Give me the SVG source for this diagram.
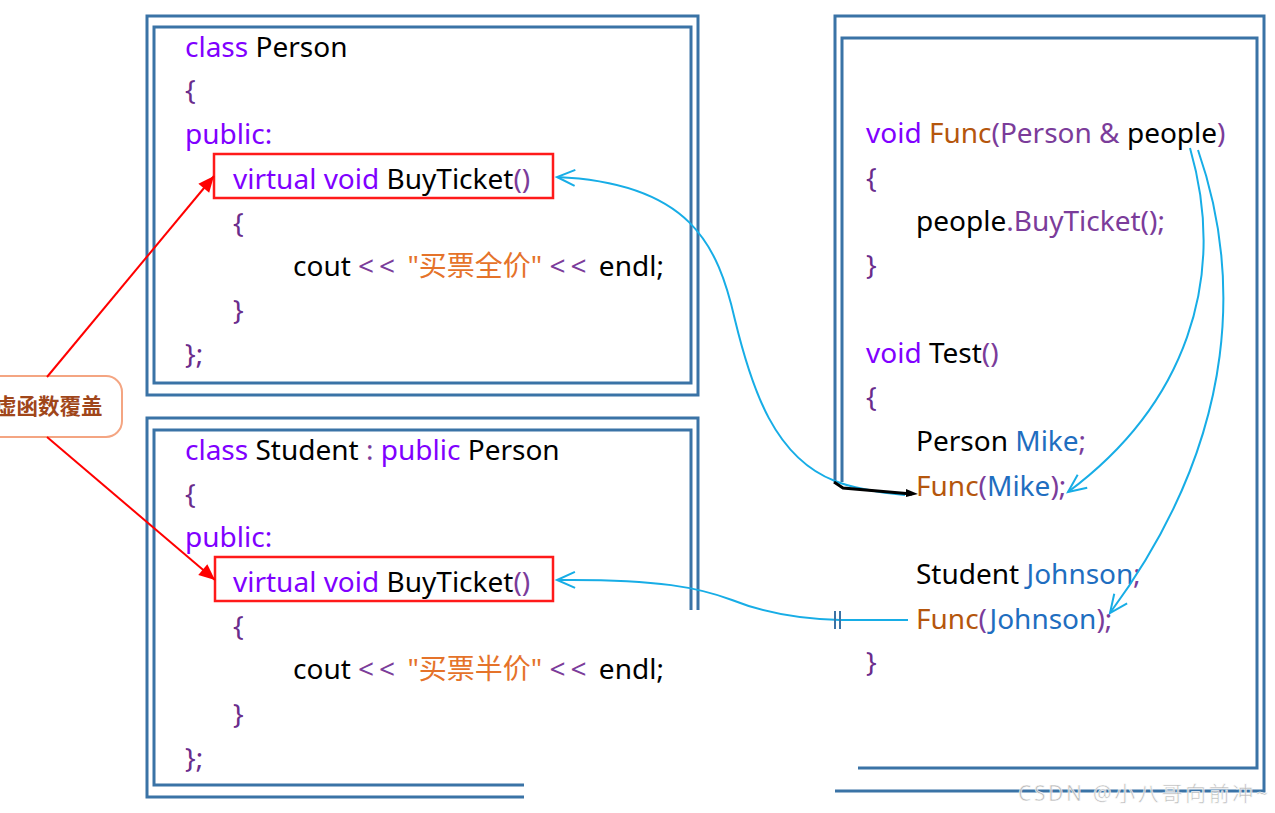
<svg xmlns="http://www.w3.org/2000/svg" width="1275" height="813" viewBox="0 0 1275 813">
<style>
text{font-family:"Noto Sans","Noto Sans CJK SC",sans-serif;font-size:28px;fill:#000}
.kw{fill:#8000FF}
.br{fill:#6A2C8C}
.fn{fill:#B5560D}
.pu{fill:#7B3C9A}
.op{fill:#7B3C9A;letter-spacing:5px}
.bl{fill:#1F6EC0}
.st{fill:#E5732A}
.frame{fill:none;stroke:#3A73A6;stroke-width:3}
.hl{fill:none;stroke:#FF1A1A;stroke-width:2.5}
.red{fill:none;stroke:#FF0000;stroke-width:2}
.blue{fill:none;stroke:#17ADE6;stroke-width:2}
</style>
<defs>
<marker id="ar" markerUnits="userSpaceOnUse" markerWidth="20" markerHeight="20" viewBox="0 0 20 20" refX="18" refY="10" orient="auto">
<path d="M2,3 L18,10 L2,17 Z" fill="#FF0000"/>
</marker>
<marker id="ab" markerUnits="userSpaceOnUse" markerWidth="24" markerHeight="24" viewBox="0 0 24 24" refX="21" refY="12" orient="auto">
<path d="M3,4 L21,12 L3,20" fill="none" stroke="#17ADE6" stroke-width="2"/>
</marker>
</defs>

<g id="person-box">
<rect class="frame" x="147" y="16" width="551" height="379"/>
<rect class="frame" x="154" y="27" width="537" height="356"/>
<text x="185" y="57"><tspan class="kw">class</tspan> Person</text>
<text x="185" y="100" class="br">{</text>
<text x="185" y="144" class="kw">public:</text>
<rect class="hl" x="214" y="154" width="339" height="44"/>
<text x="233" y="189"><tspan class="kw">virtual void</tspan> BuyTicket<tspan class="pu">()</tspan></text>
<text x="233" y="233" class="br">{</text>
<text x="293" y="276">cout <tspan class="op">&lt;&lt;</tspan> <tspan class="st">"买票全价"</tspan> <tspan class="op">&lt;&lt;</tspan> endl;</text>
<text x="233" y="320" class="br">}</text>
<text x="185" y="364" class="br">};</text>
</g>

<g id="student-box">
<path class="frame" d="M698,610 V418 H147 V797 H524"/>
<path class="frame" d="M691,610 V430 H154 V785 H524"/>
<text x="185" y="460"><tspan class="kw">class</tspan> Student <tspan class="pu">:</tspan> <tspan class="kw">public</tspan> Person</text>
<text x="185" y="504" class="br">{</text>
<text x="185" y="547" class="kw">public:</text>
<rect class="hl" x="215" y="557" width="338" height="44"/>
<text x="233" y="592"><tspan class="kw">virtual void</tspan> BuyTicket<tspan class="pu">()</tspan></text>
<text x="233" y="636" class="br">{</text>
<text x="293" y="679">cout <tspan class="op">&lt;&lt;</tspan> <tspan class="st">"买票半价"</tspan> <tspan class="op">&lt;&lt;</tspan> endl;</text>
<text x="233" y="724" class="br">}</text>
<text x="185" y="768" class="br">};</text>
</g>

<g id="func-box">
<path class="frame" d="M835,482 V16 H1264 V791 H835"/>
<path class="frame" d="M842,482 V38 H1257 V768 H858"/>
<text x="866" y="143"><tspan class="kw">void</tspan> <tspan class="fn">Func</tspan><tspan class="pu">(Person &amp;</tspan> people<tspan class="pu">)</tspan></text>
<text x="866" y="188" class="br">{</text>
<text x="916" y="231">people<tspan class="pu">.BuyTicket();</tspan></text>
<text x="866" y="275" class="br">}</text>
<text x="866" y="363"><tspan class="kw">void</tspan> Test<tspan class="pu">()</tspan></text>
<text x="866" y="407" class="br">{</text>
<text x="916" y="451">Person <tspan class="bl">Mike</tspan><tspan class="pu">;</tspan></text>
<text x="916" y="496"><tspan class="fn">Func</tspan><tspan class="pu">(</tspan><tspan class="bl">Mike</tspan><tspan class="pu">);</tspan></text>
<text x="916" y="584">Student <tspan class="bl">Johnson</tspan><tspan class="pu">;</tspan></text>
<text x="916" y="629"><tspan class="fn">Func</tspan><tspan class="pu">(</tspan><tspan class="bl">Johnson</tspan><tspan class="pu">);</tspan></text>
<text x="866" y="672" class="br">}</text>
</g>

<g id="label">
<rect x="-20" y="376" width="142" height="61" rx="16" fill="#FFFFFF" stroke="#F4A582" stroke-width="2"/>
<text x="-5" y="414" style="font-size:21.5px;font-weight:bold;fill:#A0461A">虚函数覆盖</text>
</g>

<g id="connectors">
<path class="red" d="M47,377 L214,176" marker-end="url(#ar)"/>
<path class="red" d="M47,437 L215,580" marker-end="url(#ar)"/>
<path class="blue" d="M905,495 C875,492 852,488 835,481 C775,458 752,390 735,320 C718,245 690,183 557,177" marker-end="url(#ab)"/>
<path d="M834,482 L843,488 L912,494" fill="none" stroke="#000" stroke-width="3"/>
<path d="M906,489 L918,494 L906,497 Z" fill="#000"/>
<path class="blue" d="M908,620 L840,620 C795,619 762,612 732,600 C700,588 660,579 557,580" marker-end="url(#ab)"/>
<path d="M835,611 V629 M840,611 V629" stroke="#3A73A6" stroke-width="2"/>
<path class="blue" d="M1190,148 C1228,280 1185,405 1068,492" marker-end="url(#ab)"/>
<path class="blue" d="M1198,150 C1238,265 1245,430 1110,613" marker-end="url(#ab)"/>
</g>

<text x="1018" y="801" textLength="250" style="font-size:21px;fill:#B4B4B4;stroke:#FFFFFF;stroke-width:0.6;opacity:0.9">CSDN @小八哥向前冲~</text>
</svg>
